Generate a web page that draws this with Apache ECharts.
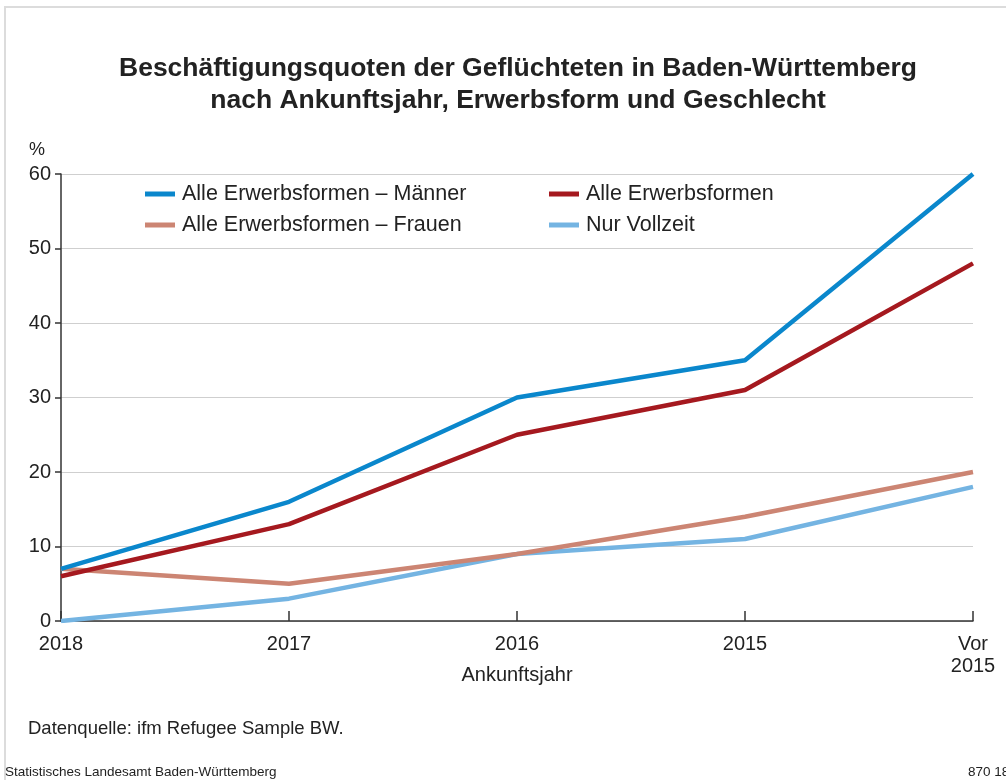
<!DOCTYPE html>
<html>
<head>
<meta charset="utf-8">
<script src="https://cdn.jsdelivr.net/npm/echarts@6/dist/echarts.min.js"></script>
<style>
  html, body { margin: 0; padding: 0; background: #fff; }
  #chart { width: 1006px; height: 780px; }
</style>
</head>
<body>
<div id="chart"></div>
<script>
// Ankunftsjahr (x axis)
const years = ['2018', '2017', '2016', '2015', 'Vor\n2015']
// Beschäftigungsquoten in %
const maenner = [7, 16, 30, 35, 60]
const alle = [6, 13, 25, 31, 48]
const frauen = [7, 5, 9, 14, 20]
const vollzeit = [0, 3, 9, 11, 18]

const font = '"Liberation Sans", Arial, sans-serif'
const txt = '#222'

const myChart = echarts.init(document.getElementById('chart'))

const mkLine = (name, data, color, z) => ({
  name: name,
  type: 'line',
  data: data,
  symbol: 'none',
  z: z,
  lineStyle: { color: color, width: 4.5 },
  itemStyle: { color: color }
})

const legendBase = {
  orient: 'vertical',
  top: 183,
  padding: 0,
  itemWidth: 30,
  itemHeight: 5,
  itemGap: 9,
  icon: 'rect',
  textStyle: { fontSize: 21.5, color: txt, lineHeight: 22, padding: [0, 0, 0, 2] }
}

const options = {
  backgroundColor: '#fff',
  animation: false,
  textStyle: { fontFamily: font },
  title: {
    text: 'Beschäftigungsquoten der Geflüchteten in Baden-Württemberg\nnach Ankunftsjahr, Erwerbsform und Geschlecht',
    left: 513,
    top: 48,
    textAlign: 'center',
    textStyle: { fontSize: 26.5, fontWeight: 'bold', color: txt, lineHeight: 32, fontFamily: font }
  },
  legend: [
    Object.assign({}, legendBase, {
      left: 145,
      data: ['Alle Erwerbsformen – Männer', 'Alle Erwerbsformen – Frauen']
    }),
    Object.assign({}, legendBase, {
      left: 549,
      data: ['Alle Erwerbsformen', 'Nur Vollzeit']
    })
  ],
  grid: { left: 61, right: 33, top: 174, bottom: 159 },
  xAxis: {
    type: 'category',
    data: years,
    boundaryGap: false,
    name: 'Ankunftsjahr',
    nameLocation: 'middle',
    nameMoveOverlap: false,
    nameGap: 44,
    nameTextStyle: { fontSize: 20, color: txt },
    axisLine: { lineStyle: { color: '#333', width: 1.5 } },
    axisTick: { show: true, inside: true, length: 10, lineStyle: { color: '#333', width: 1.5 } },
    axisLabel: { fontSize: 20, color: txt, margin: 12, lineHeight: 22 },
    splitLine: { show: false }
  },
  yAxis: {
    type: 'value',
    min: 0,
    max: 60,
    interval: 10,
    axisLine: { show: true, lineStyle: { color: '#333', width: 1.5 } },
    axisTick: { show: true, length: 6, lineStyle: { color: '#333', width: 1.5 } },
    axisLabel: { fontSize: 20, color: txt, margin: 10 },
    splitLine: { lineStyle: { color: '#cfcfcf', width: 1 } }
  },
  graphic: [
    {
      type: 'rect',
      shape: { x: 5, y: 7, width: 1020, height: 800 },
      style: { fill: 'none', stroke: '#dcdcdc', lineWidth: 2 },
      silent: true
    },
    {
      type: 'text',
      left: 29,
      top: 141,
      style: { text: '%', fontSize: 18, fill: txt, fontFamily: font }
    },
    {
      type: 'text',
      left: 28,
      top: 719,
      style: { text: 'Datenquelle: ifm Refugee Sample BW.', fontSize: 18.5, fill: txt, fontFamily: font }
    },
    {
      type: 'text',
      left: 5,
      top: 765,
      style: { text: 'Statistisches Landesamt Baden-Württemberg', fontSize: 13.5, fill: txt, fontFamily: font }
    },
    {
      type: 'text',
      left: 968,
      top: 765,
      style: { text: '870 18', fontSize: 13.5, fill: txt, fontFamily: font }
    }
  ],
  series: [
    mkLine('Nur Vollzeit', vollzeit, '#74b4e2', 2),
    mkLine('Alle Erwerbsformen – Frauen', frauen, '#cc8573', 3),
    mkLine('Alle Erwerbsformen – Männer', maenner, '#0a87cc', 4),
    mkLine('Alle Erwerbsformen', alle, '#a5191f', 5)
  ]
}

myChart.setOption(options)
</script>
</body>
</html>
